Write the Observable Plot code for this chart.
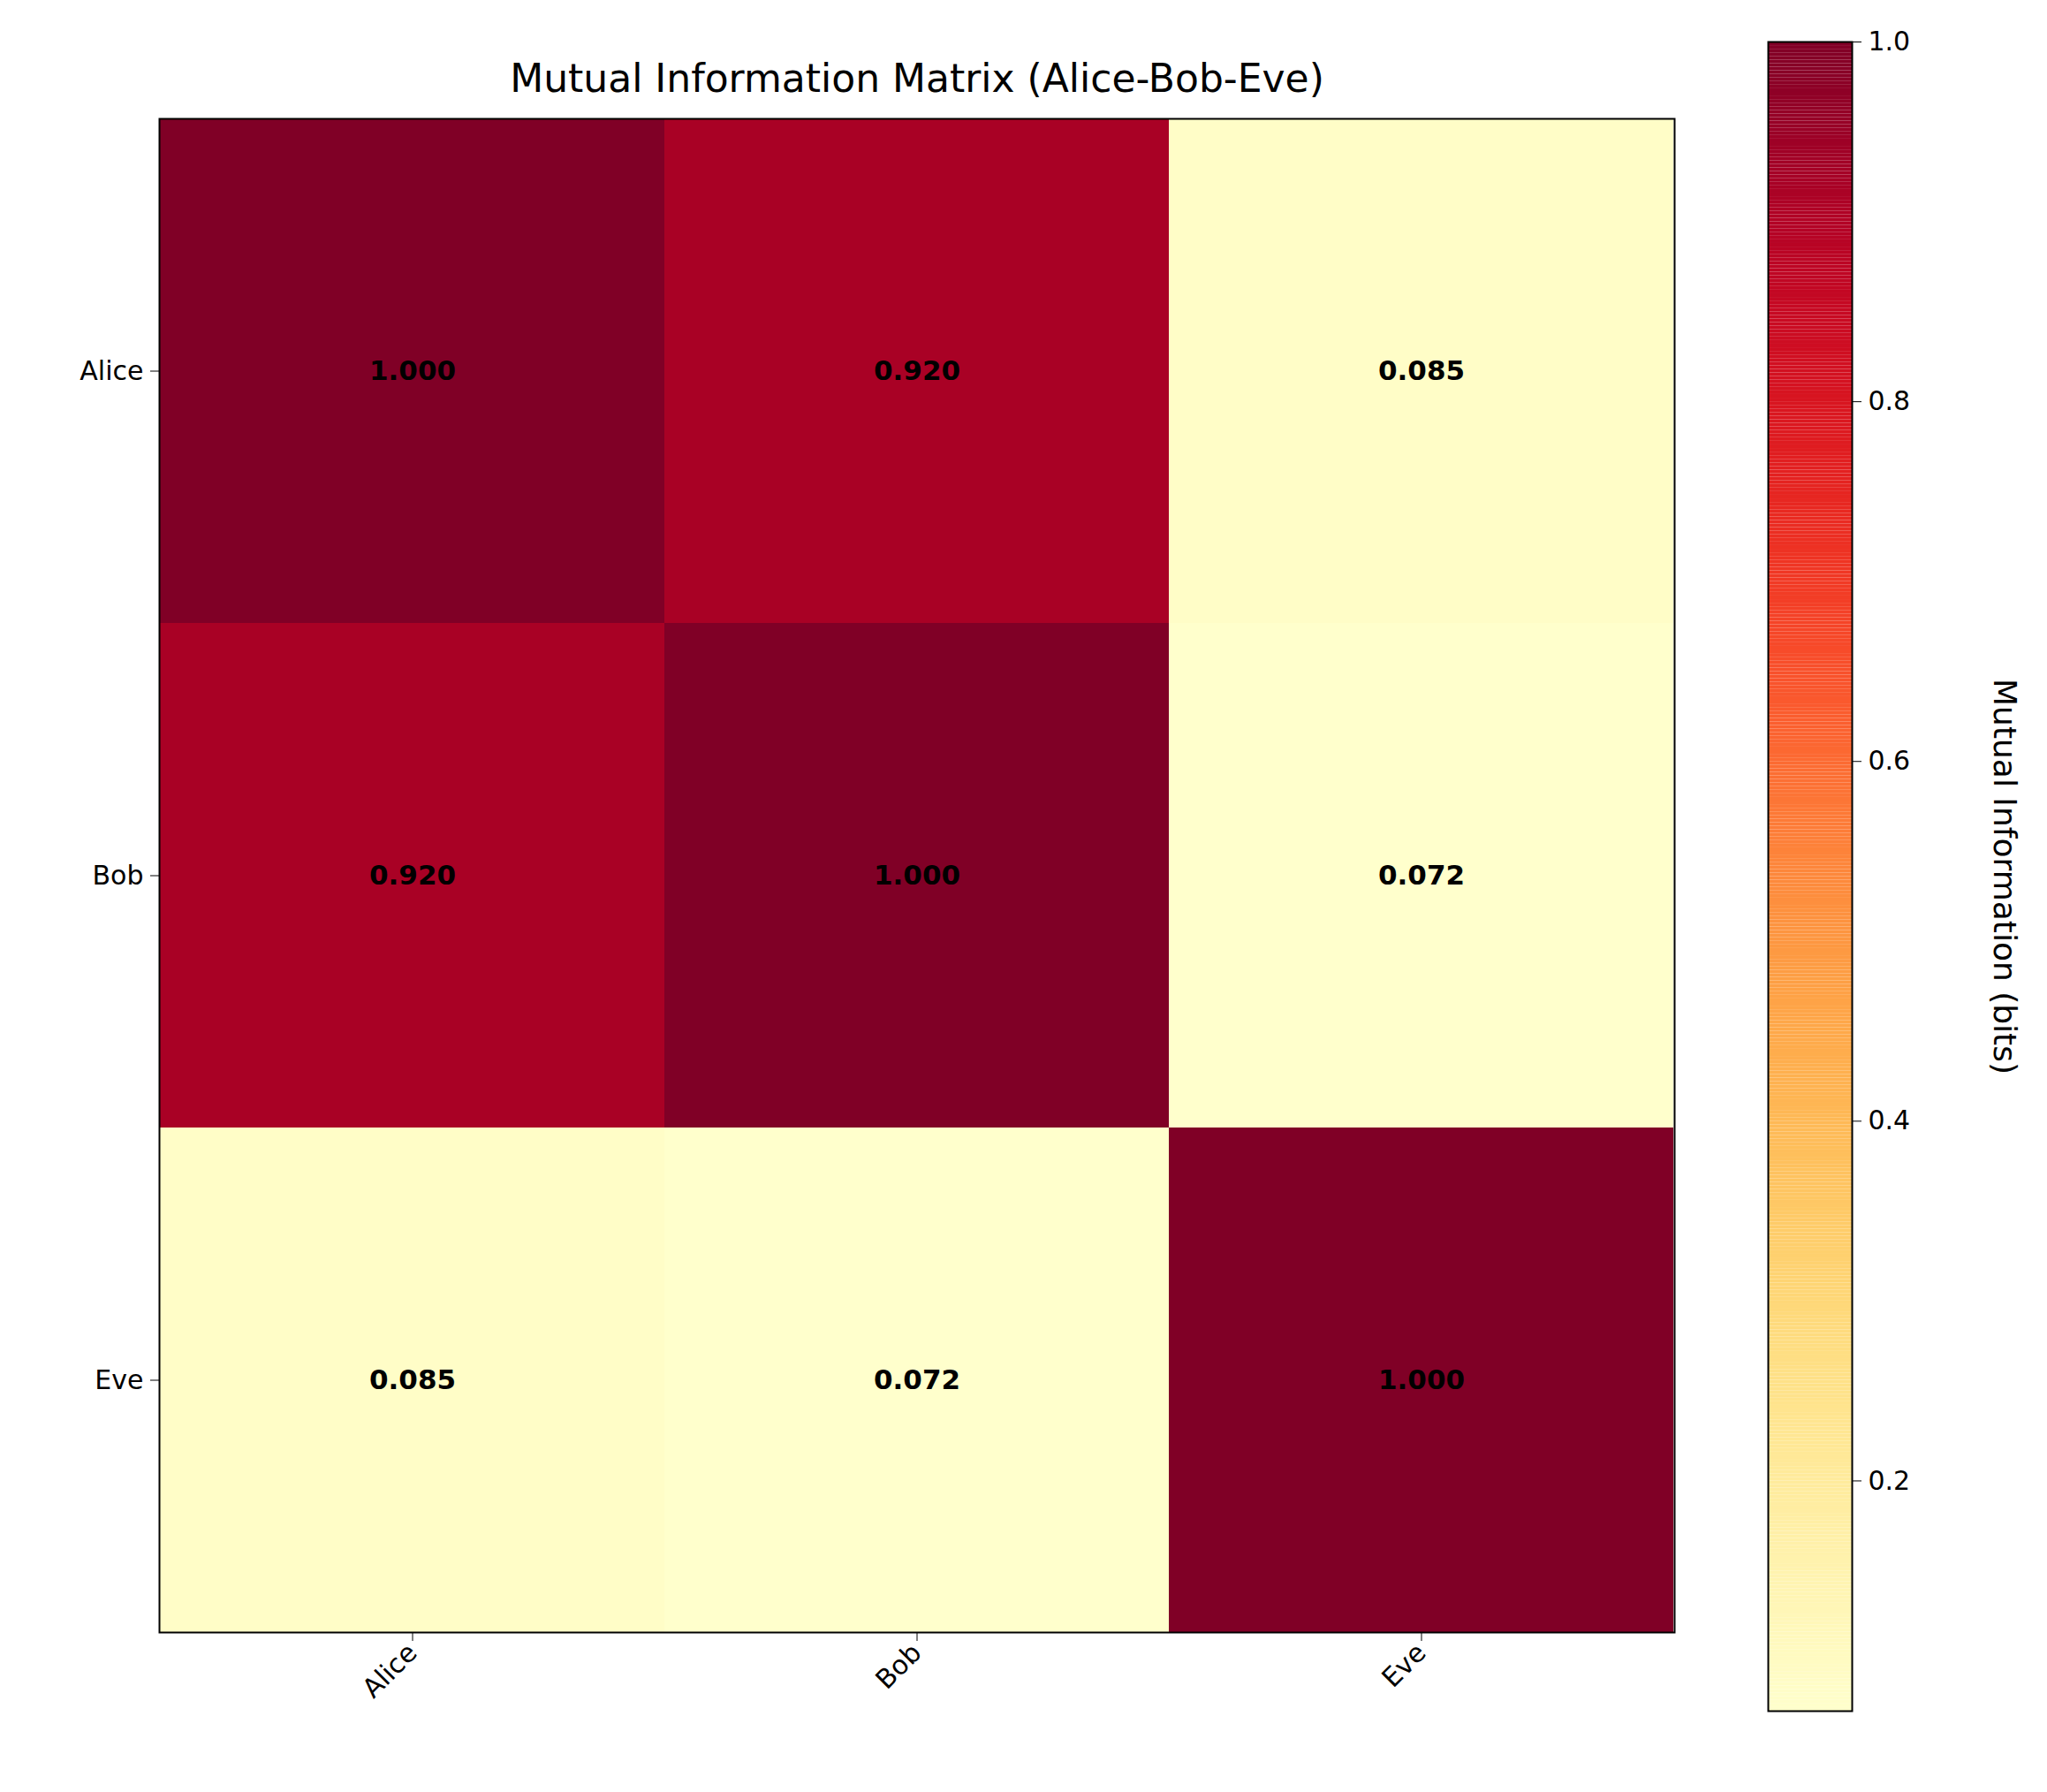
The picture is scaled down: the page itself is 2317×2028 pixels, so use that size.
<!DOCTYPE html>
<html>
<head>
<meta charset="utf-8">
<script src="https://cdn.jsdelivr.net/npm/d3@7"></script>
<script src="https://cdn.jsdelivr.net/npm/@observablehq/plot@0.6"></script>
<style>
body { margin: 0; background: white; font-family: "DejaVu Sans", sans-serif; }
#wrap { position: relative; width: 2317px; height: 2028px; }
#wrap > svg { position: absolute; left: 0; top: 0; }
</style>
</head>
<body>
<div id="wrap"></div>
<script>
const names = ["Alice", "Bob", "Eve"];
const matrix = [
  [1.000, 0.920, 0.085],
  [0.920, 1.000, 0.072],
  [0.085, 0.072, 1.000]
];
const cbTicks = [0.2, 0.4, 0.6, 0.8, 1.0];

const cells = [];
names.forEach((r, i) => names.forEach((c, j) => cells.push({row: r, col: c, v: matrix[i][j]})));
const vmin = d3.min(cells, d => d.v), vmax = d3.max(cells, d => d.v);
const color = {type: "linear", scheme: "ylorrd", domain: [vmin, vmax]};
const font = "DejaVu Sans, sans-serif";

const main = Plot.plot({
  width: 2317, height: 2028,
  marginLeft: 180, marginRight: 422, marginTop: 134, marginBottom: 181,
  style: {fontFamily: font, fontSize: "30px", background: "transparent"},
  x: {domain: names, padding: 0, label: null, tickSize: 10, tickRotate: -45, tickPadding: 8},
  y: {domain: names, padding: 0, label: null, tickSize: 10, tickPadding: 8},
  color,
  marks: [
    Plot.cell(cells, {x: "col", y: "row", fill: "v"}),
    Plot.text(cells, {x: "col", y: "row", text: d => d.v.toFixed(3), fontWeight: "bold", fontSize: 31, fill: "black"}),
    Plot.frame({stroke: "black", strokeWidth: 2}),
    Plot.text(["Mutual Information Matrix (Alice-Bob-Eve)"], {frameAnchor: "top", dy: -45, fontSize: 44, fill: "black", lineAnchor: "middle"})
  ]
});

const steps = d3.range(vmin, vmax, 0.002).map(a => ({a, b: Math.min(a + 0.002, vmax)}));
const bar = Plot.plot({
  width: 2317, height: 2028,
  marginLeft: 2001, marginRight: 221, marginTop: 47, marginBottom: 92,
  style: {fontFamily: font, fontSize: "30px", background: "transparent"},
  x: {axis: null, domain: [0, 1]},
  y: {domain: [vmin, vmax], axis: "right", ticks: cbTicks, tickFormat: ".1f", label: null, tickSize: 10, tickPadding: 8},
  color,
  marks: [
    Plot.rect(steps, {x1: 0, x2: 1, y1: "a", y2: "b", fill: d => (d.a + d.b) / 2}),
    Plot.frame({stroke: "black", strokeWidth: 2}),
    Plot.text(["Mutual Information (bits)"], {x: 1, y: (vmin + vmax) / 2, dx: 172, rotate: 90, fontSize: 36, fill: "black"})
  ]
});

document.getElementById("wrap").append(main, bar);
</script>
</body>
</html>
